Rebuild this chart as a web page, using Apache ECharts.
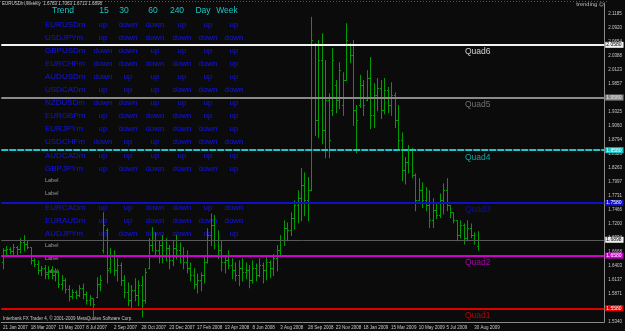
<!DOCTYPE html>
<html><head><meta charset="utf-8">
<script src="https://cdn.jsdelivr.net/npm/echarts@6/dist/echarts.min.js"></script>
<style>html,body{margin:0;padding:0;background:#0b0b0b;overflow:hidden}#c{width:625px;height:331px}</style>
</head><body><div id="c"></div>
<script>
// ---- data ----
const dateTickLabels = ['21 Jan 2007','18 Mar 2007','13 May 2007','8 Jul 2007','2 Sep 2007','28 Oct 2007','23 Dec 2007','17 Feb 2008','13 Apr 2008','8 Jun 2008','3 Aug 2008','28 Sep 2008','23 Nov 2008','18 Jan 2009','15 Mar 2009','10 May 2009','5 Jul 2009','30 Aug 2009'];
const opens = [
1.647,1.670,1.672,1.668,1.676,1.672,1.685,1.682,1.676,1.651,
1.645,1.632,1.636,1.625,1.630,1.623,1.628,1.606,1.613,1.596,
1.583,1.590,1.585,1.598,1.587,1.575,1.579,1.581,1.607,1.670,
1.708,1.636,1.661,1.632,1.642,1.613,1.590,1.575,1.594,1.585,
1.604,1.575,1.636,1.680,1.689,1.670,1.680,1.661,1.674,1.651,
1.674,1.670,1.661,1.647,1.636,1.623,1.606,1.613,1.623,1.647,
1.699,1.718,1.689,1.670,1.647,1.651,1.642,1.632,1.623,1.636,
1.628,1.632,1.613,1.636,1.623,1.642,1.632,1.647,1.636,1.655,
1.670,1.689,1.712,1.708,1.731,1.756,1.769,1.794,1.765,1.784,
2.060,1.917,2.031,1.898,1.955,1.936,1.984,1.955,1.946,1.993,
2.060,2.041,1.936,1.946,1.984,1.955,1.997,1.927,1.965,1.978,
1.936,1.974,1.946,1.965,1.917,1.879,1.822,1.837,1.860,1.813,
1.765,1.784,1.765,1.756,1.727,1.746,1.737,1.765,1.784,1.756,
1.742,1.727,1.699,1.718,1.693,1.712,1.699,1.6783];
const highs = [
1.674,1.678,1.676,1.682,1.678,1.693,1.699,1.689,1.676,1.655,
1.651,1.640,1.642,1.640,1.640,1.636,1.632,1.623,1.617,1.604,
1.596,1.594,1.604,1.607,1.592,1.585,1.579,1.619,1.623,1.742,
1.712,1.674,1.670,1.655,1.647,1.623,1.609,1.604,1.617,1.613,
1.621,1.636,1.693,1.714,1.704,1.689,1.699,1.693,1.680,1.689,
1.699,1.685,1.676,1.670,1.647,1.636,1.626,1.628,1.661,1.712,
1.740,1.737,1.708,1.689,1.661,1.670,1.655,1.647,1.651,1.655,
1.647,1.642,1.651,1.645,1.655,1.647,1.659,1.651,1.663,1.680,
1.699,1.727,1.723,1.742,1.765,1.784,1.826,1.818,1.809,2.113,
2.063,2.069,2.082,2.031,1.968,2.054,1.993,2.027,2.008,2.101,
2.063,2.069,1.946,2.003,1.993,2.012,2.037,1.987,1.997,1.993,
1.997,1.980,1.989,1.970,1.946,1.894,1.847,1.870,1.864,1.816,
1.807,1.799,1.790,1.784,1.769,1.759,1.778,1.797,1.807,1.756,
1.742,1.727,1.727,1.721,1.727,1.721,1.704,1.7063];
const lows = [
1.636,1.663,1.664,1.661,1.663,1.666,1.670,1.674,1.645,1.640,
1.626,1.623,1.617,1.617,1.617,1.613,1.600,1.596,1.590,1.575,
1.579,1.579,1.583,1.579,1.569,1.566,1.543,1.581,1.594,1.666,
1.609,1.628,1.623,1.613,1.604,1.581,1.566,1.562,1.575,1.566,
1.545,1.571,1.636,1.670,1.661,1.647,1.647,1.651,1.636,1.642,
1.655,1.647,1.636,1.628,1.613,1.598,1.590,1.594,1.609,1.647,
1.680,1.674,1.655,1.632,1.628,1.636,1.617,1.613,1.604,1.613,
1.617,1.600,1.609,1.613,1.621,1.609,1.615,1.619,1.623,1.632,
1.661,1.680,1.689,1.699,1.712,1.723,1.727,1.737,1.727,1.784,
1.889,1.885,1.873,1.847,1.847,1.927,1.932,1.940,1.927,1.993,
2.027,1.908,1.856,1.942,1.927,1.955,1.902,1.904,1.936,1.921,
1.930,1.932,1.927,1.904,1.864,1.803,1.797,1.818,1.809,1.746,
1.765,1.752,1.746,1.714,1.714,1.731,1.733,1.740,1.746,1.733,
1.723,1.689,1.695,1.683,1.689,1.695,1.683,1.6713];
const closes = [
1.670,1.672,1.668,1.676,1.672,1.685,1.682,1.676,1.651,1.645,
1.632,1.636,1.625,1.630,1.623,1.628,1.606,1.613,1.596,1.583,
1.590,1.585,1.598,1.587,1.575,1.579,1.569,1.607,1.613,1.718,
1.632,1.661,1.632,1.642,1.613,1.590,1.575,1.594,1.585,1.604,
1.575,1.628,1.680,1.689,1.670,1.680,1.661,1.674,1.651,1.674,
1.670,1.661,1.647,1.636,1.623,1.606,1.613,1.623,1.647,1.699,
1.718,1.689,1.670,1.647,1.651,1.642,1.632,1.623,1.636,1.628,
1.632,1.613,1.636,1.623,1.642,1.632,1.647,1.636,1.655,1.670,
1.689,1.712,1.708,1.731,1.756,1.769,1.794,1.765,1.784,2.069,
1.917,2.031,1.898,1.955,1.879,2.031,1.955,2.012,1.993,2.069,
2.041,1.936,1.917,1.984,1.946,1.997,1.927,1.965,1.978,1.936,
1.974,1.946,1.965,1.917,1.879,1.822,1.837,1.860,1.813,1.765,
1.784,1.765,1.756,1.727,1.746,1.737,1.765,1.784,1.756,1.742,
1.727,1.699,1.718,1.693,1.712,1.699,1.689,1.6898];
const quadNames = ['Quad6','Quad5','Quad4','Quad3','Quad2','Quad1'];
const quadLevels = [2.0580,1.9580,1.8580,1.7580,1.6580,1.5580];
const quadColors = ['#f2f2f2','#8a8a8a','#18c8c8','#1010c8','#d000d0','#e00000'];
const quadBoxText = ['#000000','#e0e0e0','#ffffff','#ffffff','#ffffff','#ffffff'];
const currentPrice = 1.6898;
const titleText = 'EURUSDm,Weekly  1.6783 1.7063 1.6713 1.6898';
const trendHeader = ['Trend','15','30','60','240','Day','Week'];
const trendPairs = ['EURUSDm','USDJPYm','GBPUSDm','EURCHFm','AUDUSDm','USDCADm','NZDUSDm','EURGBPm','EURJPYm','USDCHFm','AUDCADm','GBPJPYm','Label','Label','EURCADm','EURAUDm','AUDJPYm','Label','Label','Label'];
const trendRows = [
['up','down','down','up','up','up'],
['up','down','down','down','down','down'],
['down','down','up','up','up','up'],
['down','down','down','down','down','up'],
['down','up','up','up','up','up'],
['up','up','up','down','down','down'],
['down','down','up','up','up','up'],
['up','down','down','down','up','up'],
['up','down','down','down','down','up'],
['down','up','up','down','down','down'],
['up','up','up','up','up','up'],
['up','down','down','down','down','up'],
null,null,
['up','up','down','down','up','down'],
['up','up','down','down','down','down'],
['up','down','down','down','up','up'],
null,null,null];
const yMin = 1.5340, yMax = 2.1394, yStep = 0.02657;
const weekSlots = 174;

// ---- chart ----
const chart = echarts.init(document.getElementById('c'), null, {renderer:'canvas'});
const slots = Array.from({length: weekSlots}, (_, i) => String(i));
const ohlc = closes.map((c, i) => [i, opens[i], highs[i], lows[i], c]);
const lastIdx = closes.length - 1;
const barColor = '#009c00';
const smallFont = 'Liberation Sans';

const markData = quadLevels.map((v, i) => ({
  yAxis: v,
  lineStyle: {color: quadColors[i], width: 2, type: i === 2 ? [7, 1] : 'solid'},
  label: {show: true, position: 'end', distance: 1, formatter: v.toFixed(4), backgroundColor: quadColors[i],
          color: quadBoxText[i], fontSize: 5, fontFamily: smallFont, padding: [1, 2, 0, 1]}
}));
markData.push({
  yAxis: currentPrice,
  lineStyle: {color: '#5a5a5a', width: 1, type: 'solid'},
  label: {show: true, position: 'end', distance: 1, formatter: currentPrice.toFixed(4), backgroundColor: '#f0f0f0',
          color: '#000', fontSize: 5, fontFamily: smallFont, padding: [1, 2, 0, 1]}
});

const graphics = [];
graphics.push({type:'line', shape:{x1:0, y1:1.5, x2:608, y2:1.5}, style:{stroke:'#555', lineWidth:1, lineDash:[1,2]}, silent:true});
graphics.push({type:'text', x:2, y:4, style:{text:titleText, fill:'#d0d0d0', font:'4.5px "Liberation Sans"', verticalAlign:'middle'}, silent:true});
graphics.push({type:'text', x:604, y:5, style:{text:'trending \u263A', fill:'#d0d0d0', font:'5px "DejaVu Sans"', align:'right', verticalAlign:'middle'}, silent:true});
graphics.push({type:'text', x:3, y:319, style:{text:'Interbank FX Trader 4, \u00A9 2001-2009 MetaQuotes Software Corp.', fill:'#c8c8c8', font:'4.5px "Liberation Sans"', verticalAlign:'middle'}, silent:true});
const headerX = [63, 104, 124, 153, 177, 203, 227];
trendHeader.forEach((t, i) => graphics.push({type:'text', x:headerX[i], y:11, style:{text:t, fill:'#19c6c6', font:'8.5px "Liberation Sans"', align:'center', verticalAlign:'middle'}, silent:true}));
const colX = [103, 128, 155, 182, 208, 234];
trendPairs.forEach((p, r) => {
  const y = 24.3 + 13.1 * r;
  if (p === 'Label') {
    graphics.push({type:'text', x:45, y:y - 1.5, style:{text:p, fill:'#9a9a9a', font:'5.5px "Liberation Sans"', verticalAlign:'middle'}, silent:true});
    return;
  }
  graphics.push({type:'text', x:45, y:y, style:{text:p, fill:'#1414f0', font:'8px "Liberation Sans"', verticalAlign:'middle'}, silent:true});
  trendRows[r].forEach((w, k) => graphics.push({type:'text', x:colX[k], y:y, style:{text:w, fill:'#1414f0', font:'8px "Liberation Sans"', align:'center', verticalAlign:'middle'}, silent:true}));
});

chart.setOption({
  backgroundColor: '#0b0b0b',
  animation: false,
  grid: {left: 1, right: 17, top: 3, bottom: 9},
  xAxis: {
    type: 'category', data: slots, boundaryGap: true,
    axisLine: {show: true, lineStyle: {color: '#8a8a8a', width: 1}},
    axisTick: {show: false},
    axisLabel: {interval: 7, align: 'left', margin: 3, fontSize: 4.5, fontFamily: smallFont, color: '#c8c8c8',
      formatter: (v, idx) => dateTickLabels[idx / 8] || ''},
    splitLine: {show: false}
  },
  yAxis: {
    type: 'value', position: 'right', min: yMin, max: yMax, interval: yStep, scale: true,
    axisLine: {show: true, lineStyle: {color: '#8a8a8a', width: 1}},
    axisTick: {show: false},
    axisLabel: {margin: 4, fontSize: 4.5, fontFamily: smallFont, color: '#c8c8c8', showMaxLabel: false,
      formatter: v => v.toFixed(4)},
    splitLine: {show: false}
  },
  series: [
    {
      type: 'custom', name: 'EURUSDm', data: ohlc, clip: true,
      encode: {x: 0, y: [1, 2, 3, 4]},
      renderItem: function (params, api) {
        const idx = api.value(0);
        const o = api.coord([idx, api.value(1)]);
        const h = api.coord([idx, api.value(2)]);
        const l = api.coord([idx, api.value(3)]);
        const c = api.coord([idx, api.value(4)]);
        const px = Math.round(o[0]) + 0.5;
        const st = {stroke: barColor, lineWidth: 1};
        return {type: 'group', children: [
          {type: 'line', shape: {x1: px, y1: h[1], x2: px, y2: l[1] + 1}, style: st},
          {type: 'line', shape: {x1: px - 1.5, y1: Math.round(o[1]) + 0.5, x2: px, y2: Math.round(o[1]) + 0.5}, style: st},
          {type: 'line', shape: {x1: px, y1: Math.round(c[1]) + 0.5, x2: px + 1.5, y2: Math.round(c[1]) + 0.5}, style: st}
        ]};
      },
      markLine: {symbol: 'none', silent: true, animation: false, data: markData}
    },
    {
      type: 'scatter', name: 'quad labels', symbolSize: 1, itemStyle: {color: 'rgba(0,0,0,0)'}, silent: true, z: 5,
      data: quadLevels.map((v, i) => ({value: [lastIdx, v],
        label: {show: true, position: 'bottom', distance: 1, formatter: quadNames[i], color: quadColors[i] === '#f2f2f2' ? '#ffffff' : quadColors[i],
                fontSize: 8.5, fontFamily: 'Liberation Sans'}}))
    }
  ],
  graphic: graphics
});
</script>
</body></html>
